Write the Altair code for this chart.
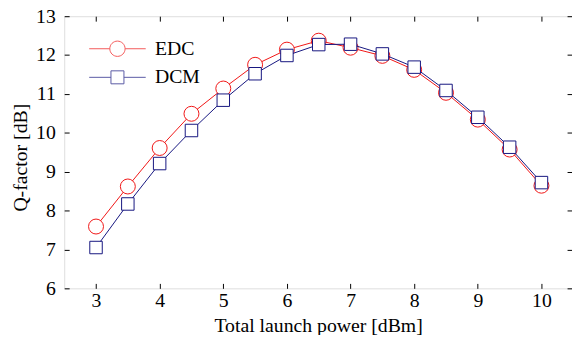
import altair as alt
import pandas as pd

power = [3, 3.5, 4, 4.5, 5, 5.5, 6, 6.5, 7, 7.5, 8, 8.5, 9, 9.5, 10]
edc = [7.59, 8.62, 9.61, 10.49, 11.14, 11.75, 12.14, 12.37, 12.19, 11.98, 11.62, 11.03, 10.34, 9.57, 8.64]
dcm = [7.05, 8.17, 9.21, 10.06, 10.84, 11.52, 11.99, 12.27, 12.28, 12.03, 11.69, 11.09, 10.40, 9.63, 8.72]
series_names = ["EDC", "DCM"]
x_ticks = [3, 4, 5, 6, 7, 8, 9, 10]
y_ticks = [6, 7, 8, 9, 10, 11, 12, 13]

RED = "#f01414"
BLUE = "#14147f"
FONT = "Liberation Serif, DejaVu Serif, serif"
W, H = 515, 276

df = pd.DataFrame({
    "power": power * 2,
    "q": edc + dcm,
    "series": ["EDC"] * len(power) + ["DCM"] * len(power),
})

xs = alt.Scale(domain=[2.5, 10.48], nice=False, zero=False)
ys = alt.Scale(domain=[6, 13], nice=False, zero=False)

base = alt.Chart(df)

# axes
x_lab = alt.Axis(orient="bottom", values=x_ticks, ticks=False, tickSize=0, domain=False, grid=False,
                 labelPadding=2, labelFont=FONT, labelFontSize=20, labelColor="black",
                 title="Total launch power [dBm]", titleFont=FONT, titleFontSize=20,
                 titleFontWeight="normal", titleColor="black", titleY=44, titleBaseline="alphabetic")
y_lab = alt.Axis(orient="left", values=y_ticks, ticks=False, tickSize=0, domain=False, grid=False,
                 labelPadding=9, labelFont=FONT, labelFontSize=20, labelColor="black",
                 title="Q-factor [dB]", titleFont=FONT, titleFontSize=20, titleFontWeight="normal",
                 titleColor="black", titleX=-38, titleY=143, titleBaseline="alphabetic", titleAngle=270)
x_tick_bottom = alt.Axis(orient="top", offset=-H, values=x_ticks, labels=False, domain=False, grid=False,
                         ticks=True, tickSize=5, tickColor="black", tickWidth=1, title=None)
x_tick_top = alt.Axis(orient="bottom", offset=-H, values=x_ticks, labels=False, domain=False, grid=False,
                      ticks=True, tickSize=5, tickColor="black", tickWidth=1, title=None)
y_tick_left = alt.Axis(orient="right", offset=-W, values=y_ticks, labels=False, domain=False, grid=False,
                       ticks=True, tickSize=5, tickColor="black", tickWidth=1, title=None)
y_tick_right = alt.Axis(orient="left", offset=-W, values=y_ticks, labels=False, domain=False, grid=False,
                        ticks=True, tickSize=5, tickColor="black", tickWidth=1, title=None)

edc_line = base.transform_filter("datum.series == 'EDC'").mark_line(color=RED, strokeWidth=1).encode(
    x=alt.X("power:Q", scale=xs, axis=x_lab),
    y=alt.Y("q:Q", scale=ys, axis=y_lab),
)
edc_pts = base.transform_filter("datum.series == 'EDC'").mark_point(
    shape="circle", filled=True, fill="white", stroke=RED, strokeWidth=1, size=230, opacity=1
).encode(
    x=alt.X("power:Q", scale=xs, axis=x_tick_bottom),
    y=alt.Y("q:Q", scale=ys, axis=y_tick_left),
)
dcm_line = base.transform_filter("datum.series == 'DCM'").mark_line(color=BLUE, strokeWidth=1).encode(
    x=alt.X("power:Q", scale=xs, axis=x_tick_top),
    y=alt.Y("q:Q", scale=ys, axis=y_tick_right),
)
dcm_pts = base.transform_filter("datum.series == 'DCM'").mark_point(
    shape="square", filled=True, fill="white", stroke=BLUE, strokeWidth=1, size=160, opacity=1
).encode(
    x=alt.X("power:Q", scale=xs, axis=None),
    y=alt.Y("q:Q", scale=ys, axis=None),
)

edc_sym = "M-3.7,0L-1,0M1,0L3.7,0M1,0A1,1,0,1,1,-1,0A1,1,0,1,1,1,0Z"
dcm_sym = "M-3.7,0L-0.85,0M0.85,0L3.7,0M-0.85,-0.85L0.85,-0.85L0.85,0.85L-0.85,0.85Z"

legend = alt.Legend(orient="none", legendX=44, legendY=23, title=None, padding=0,
                    labelFont=FONT, labelFontSize=20, labelColor="black", labelOffset=28,
                    symbolSize=240, symbolStrokeWidth=1, rowPadding=9)

legend_layer = base.transform_filter("datum.q > 100").mark_point(filled=False, strokeWidth=1).encode(
    x=alt.X("power:Q", scale=xs, axis=None),
    y=alt.Y("q:Q", scale=ys, axis=None),
    color=alt.Color("series:N", scale=alt.Scale(domain=series_names, range=[RED, BLUE]), legend=legend),
    shape=alt.Shape("series:N", scale=alt.Scale(domain=series_names, range=[edc_sym, dcm_sym]), legend=legend),
)

chart = alt.layer(edc_line, edc_pts, dcm_line, dcm_pts, legend_layer).resolve_axis(
    x="independent", y="independent"
).properties(
    width=W, height=H,
    autosize=alt.AutoSizeParams(type="none"),
    padding={"left": 57, "top": 6, "right": 0, "bottom": 45},
).configure_view(stroke="black", strokeWidth=1.5).configure(background="white", font=FONT)

chart.save("out.html", embed_options={"renderer": "svg", "actions": False})
